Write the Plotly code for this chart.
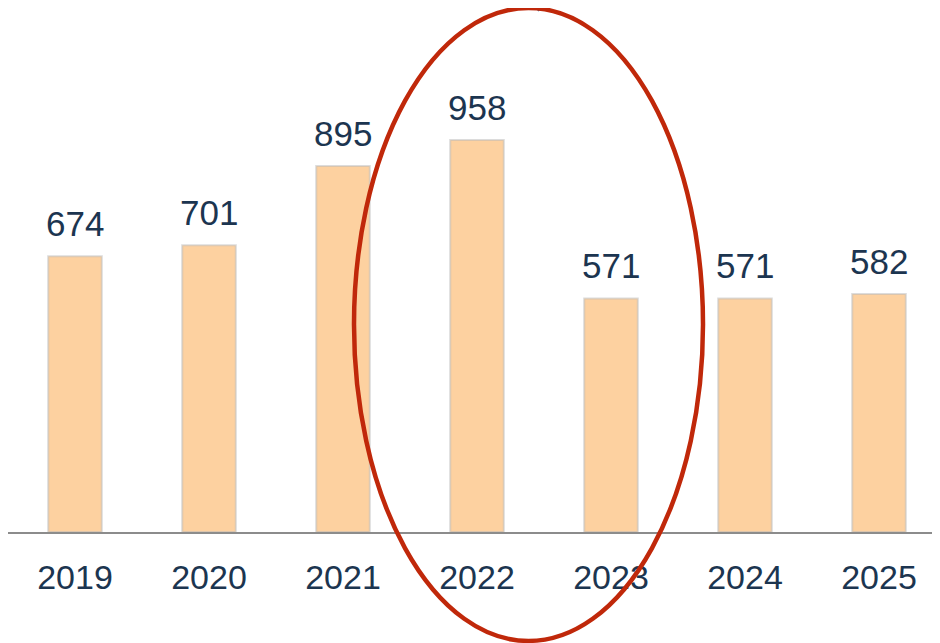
import plotly.graph_objects as go

years = ["2019", "2020", "2021", "2022", "2023", "2024", "2025"]
values = [674, 701, 895, 958, 571, 571, 582]

W, H = 940, 643
L, R, T, B = 0, 2, 0, 119
pw, ph = W - L - R, H - T - B
OFF = 8  # page body offset in the screenshot

def px(x):
    return (x - OFF - L) / pw

def py(y):
    return (T + ph - (y - OFF)) / ph

FONT = "Liberation Sans, Arial, sans-serif"
fig = go.Figure()
fig.add_trace(go.Bar(
    x=years, y=values,
    marker=dict(color="#FDD1A0", line=dict(color="rgba(185,185,185,0.5)", width=2)),
    hoverinfo="skip",
))

for i, v in enumerate(values):
    fig.add_annotation(x=i, y=v, xref="x", yref="y", text=str(v), showarrow=False,
                       yanchor="bottom", yshift=11,
                       font=dict(size=35, color="#1C3550", family=FONT))

# red ellipse highlight
fig.add_shape(type="circle", xref="paper", yref="paper",
              x0=px(354), x1=px(703), y0=py(641), y1=py(8),
              line=dict(color="#C0280A", width=4.5), layer="above")
# blue line fragment at top
fig.add_shape(type="line", xref="paper", yref="paper",
              x0=px(537), y0=py(10), x1=px(552), y1=py(-5),
              line=dict(color="#3A6E9A", width=4.5), layer="below")

fig.update_layout(
    width=W, height=H,
    margin=dict(l=L, r=R, t=T, b=B),
    plot_bgcolor="white", paper_bgcolor="white",
    bargap=0.6, showlegend=False,
    font=dict(family=FONT, color="#1C3550"),
)
fig.update_xaxes(type="category", range=[-0.5, 6.5], showline=True, linecolor="#8C8C8C",
                 linewidth=2, showgrid=False, ticks="", ticklabelstandoff=14,
                 tickfont=dict(size=34, color="#1C3550"))
fig.update_yaxes(range=[0, 1281], visible=False, showgrid=False)

fig.write_html("out.html")
